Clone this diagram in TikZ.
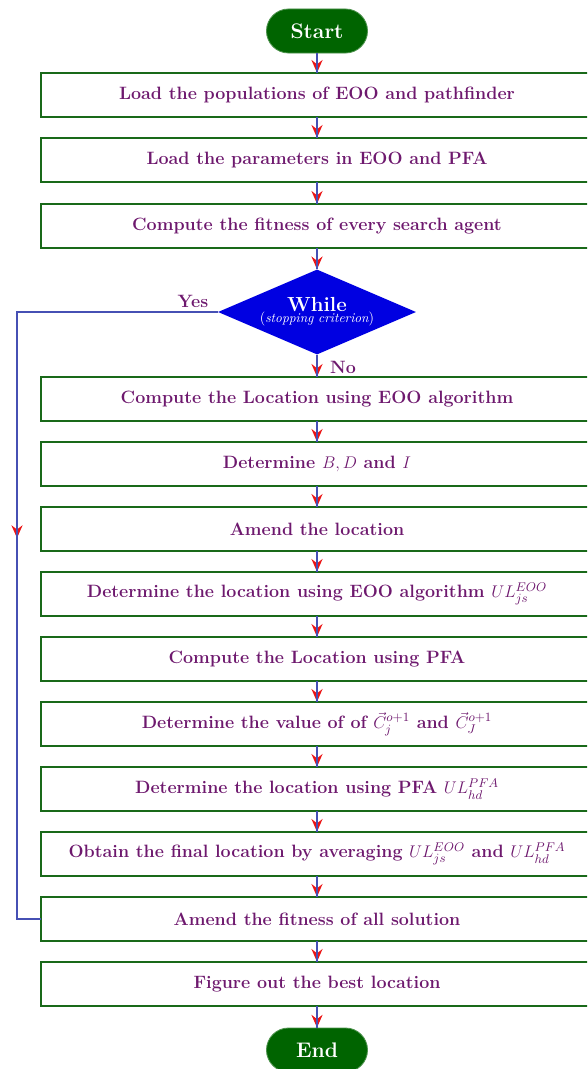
\documentclass[tikz,border=0pt]{standalone}
\usepackage{amsmath}
\usetikzlibrary{shapes.geometric,arrows.meta,calc}
\definecolor{txtp}{RGB}{110,25,110}
\definecolor{bgreen}{RGB}{25,105,25}
\definecolor{tgreen}{RGB}{0,100,0}
\definecolor{lblue}{RGB}{70,80,180}
\definecolor{dblue}{RGB}{0,0,225}
\definecolor{tred}{RGB}{235,20,20}
\begin{document}
\begin{tikzpicture}[x=0.025cm,y=-0.025cm,
  boxtext/.style={font=\fontsize{12.7}{15}\selectfont\bfseries, text=txtp, minimum width=13.8cm, minimum height=1.1cm, inner sep=0pt},
  boxline/.style={draw=bgreen, line width=1.4pt},
  term/.style={fill=tgreen, draw=tgreen!70!white, line width=0.6pt, rounded corners=0.55cm, minimum width=2.525cm, minimum height=1.1cm, text=white, font=\fontsize{15}{18}\selectfont\bfseries},
  decision/.style={diamond, fill=dblue, aspect=2.33, minimum width=4.95cm, minimum height=2.125cm, inner sep=0pt, text=white, align=center},
  arr/.style={draw=lblue, line width=0.8pt, -{Stealth[color=tred, fill=tred, length=3.2mm, width=2.8mm, inset=1.1mm]}, postaction={draw=lblue, line width=0.8pt, -}},
  lab/.style={text=txtp, font=\fontsize{12.7}{15}\selectfont\bfseries}]
\useasboundingbox (0,0) rectangle (587,1069);
\clip (0,0) rectangle (587,1069);
\coordinate (R) at (640,0);

\node[term] (start) at (317,31) {Start};
\node[boxtext] (b1) at (317,95) {Load the populations of EOO and pathfinder};
\node[boxtext] (b2) at (317,160) {Load the parameters in EOO and PFA};
\node[boxtext] (b3) at (317,226) {Compute the fitness of every search agent};
\node[decision] (dec) at (317,312) {\fontsize{14.5}{16}\selectfont\textbf{While}\\[-4pt]$\left(\text{\fontsize{9.5}{11}\selectfont\itshape stopping criterion}\right)$};
\node[boxtext] (b4) at (317,399) {Compute the Location using EOO algorithm};
\node[boxtext] (b5) at (317,464) {Determine $B,D$ and $I$};
\node[boxtext] (b6) at (317,529) {Amend the location};
\node[boxtext] (b7) at (317,594) {Determine the location using EOO algorithm $UL_{js}^{EOO}$};
\node[boxtext] (b8) at (317,659) {Compute the Location using PFA};
\node[boxtext] (b9) at (317,724) {Determine the value of of $\vec{C}_j^{o+1}$ and $\vec{C}_J^{o+1}$};
\node[boxtext] (b10) at (317,789) {Determine the location using PFA $UL_{hd}^{PFA}$};
\node[boxtext] (b11) at (317,854) {Obtain the final location by averaging $UL_{js}^{EOO}$ and $UL_{hd}^{PFA}$};
\node[boxtext] (b12) at (317,919) {Amend the fitness of all solution};
\node[boxtext] (b13) at (317,984) {Figure out the best location};
\node[term] (end) at (317,1050) {End};

\foreach \b in {b1,b2,b3,b4,b5,b6,b7,b8,b9,b10,b11,b12,b13}{
  \draw[boxline] (\b.north west -| R) -- (\b.north west) -- (\b.south west) -- (\b.south west -| R);
}

\draw[arr] (start) -- (b1);
\draw[arr] (b1) -- (b2);
\draw[arr] (b2) -- (b3);
\draw[arr] (b3) -- (dec);
\draw[arr] (dec) -- (b4);
\draw[arr] (b4) -- (b5);
\draw[arr] (b5) -- (b6);
\draw[arr] (b6) -- (b7);
\draw[arr] (b7) -- (b8);
\draw[arr] (b8) -- (b9);
\draw[arr] (b9) -- (b10);
\draw[arr] (b10) -- (b11);
\draw[arr] (b11) -- (b12);
\draw[arr] (b12) -- (b13);
\draw[arr] (b13) -- (end);

\coordinate (mid) at (17,538);
\draw[arr] (dec.west) -| (mid);
\draw[draw=lblue, line width=0.8pt] (mid) |- (b12.west);

\node[lab] (yes) at (193,301) {Yes};
\node[lab] (no) at (343,367) {No};
\end{tikzpicture}
\end{document}
